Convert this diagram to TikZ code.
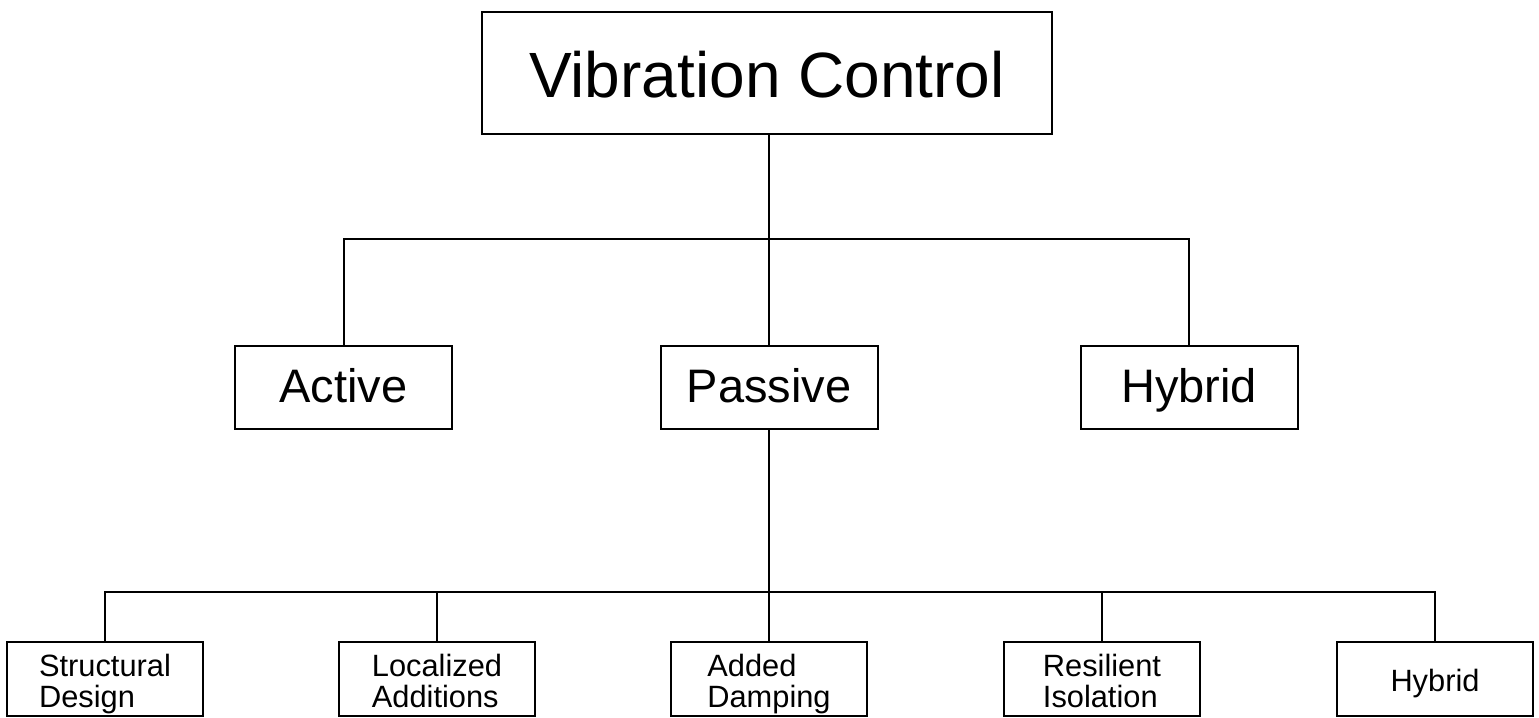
\documentclass[tikz,border=0pt]{standalone}
\usepackage{fontspec}
\setmainfont{Liberation Sans}
\usepackage{tikz}
\usetikzlibrary{positioning}

\begin{document}
\begin{tikzpicture}[
    x=0.5pt, y=-0.5pt,
    line width=1pt,
    topbox/.style={draw, minimum width=285pt, minimum height=61pt, inner sep=0pt,
      text height=24pt, text depth=0pt, font=\fontsize{32}{36}\selectfont},
    midbox/.style={draw, minimum width=108.5pt, minimum height=41.5pt, inner sep=0pt,
      text height=14.5pt, text depth=0pt, font=\fontsize{23.5}{26}\selectfont},
    leafbox/.style={draw, minimum width=98pt, minimum height=37pt, inner sep=0pt,
      text height=28.5pt, text depth=0pt,
      align=left, font=\fontsize{15.4}{15.5}\selectfont},
  ]
  \useasboundingbox (0,0) rectangle (1539,718);

  % ── Nodes ────────────────────────────────────────────────────────────────

  % Root
  \node[topbox] (VC) at (767, 73) {Vibration Control};

  % Level 1
  \node[midbox] (Active)  at ( 343.5, 387.5) {Active};
  \node[midbox] (Passive) at ( 769,   387.5) {Passive};
  \node[midbox] (Hybrid)  at (1189,   387.5) {Hybrid};

  % Level 2 (under Passive)
  \node[leafbox] (Struct)  at ( 105, 679) {Structural\\Design};
  \node[leafbox] (Local)   at ( 437, 679) {Localized\\Additions};
  \node[leafbox] (Damp)    at ( 769, 679) {Added\\Damping};
  \node[leafbox] (Isol)    at (1102, 679) {Resilient\\Isolation};
  \node[leafbox, text height=12.5pt] (HybridP) at (1435, 679) {Hybrid};

  % bus lines
  \coordinate (bus1) at (769, 239);
  \coordinate (bus2) at (769, 592);

  % ── Edges ────────────────────────────────────────────────────────────────

  % VC → Active, Passive, Hybrid
  \draw (VC.south -| Passive.north) -- (Passive.north);
  \draw (Active.north) |- (bus1) -| (Hybrid.north);

  % Passive → leaves
  \draw (Passive.south) -- (Damp.north);
  \draw (Struct.north) |- (bus2) -| (HybridP.north);
  \draw (Local.north) -- (Local.north |- bus2);
  \draw (Isol.north)  -- (Isol.north |- bus2);

\end{tikzpicture}
\end{document}
